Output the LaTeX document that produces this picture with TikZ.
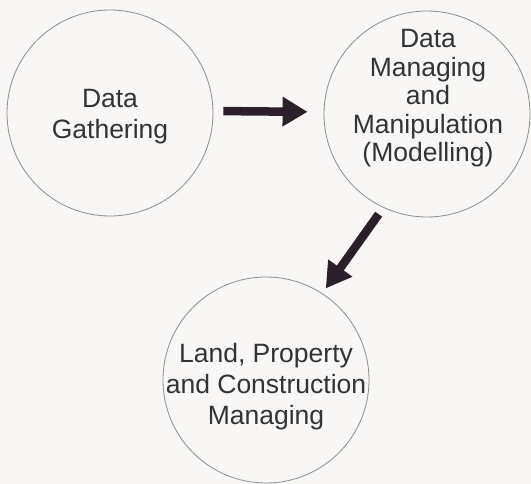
\documentclass[tikz,border=0pt]{standalone}
\usepackage{fontspec}
\setmainfont{Liberation Sans}
\usetikzlibrary{arrows.meta}
\definecolor{bgc}{HTML}{F8F7F5}
\definecolor{ringc}{HTML}{8E8E8E}
\definecolor{txtc}{HTML}{333333}
\definecolor{arrc}{HTML}{2B1F2B}
\begin{document}
\begin{tikzpicture}[x=1pt,y=-1pt,
  ring/.style={circle, draw=ringc, line width=0.8pt, minimum size=206pt, inner sep=0pt},
  label/.style={align=center, text=txtc, inner sep=0pt},
  bigarrow/.style={draw=arrc, line width=8.5pt, -{Triangle[length=25pt,width=28pt]}, arrc}]
  \fill[bgc] (0,0) rectangle (531,484);
  \useasboundingbox (0,0) rectangle (531,484);
  \node[ring] (L) at (110,113) {};
  \node[ring] (R) at (427,114) {};
  \node[ring] (B) at (266,380) {};
  \node[label, font=\fontsize{26.5}{31}\selectfont] (Lt) at (110,117) {Data\\Gathering};
  \node[label, font=\fontsize{26.5}{28.5}\selectfont] (Rt) at (428,98.5) {Data\\Managing\\and\\Manipulation\\(Modelling)};
  \node[label, font=\fontsize{26.5}{31}\selectfont] (Bt) at (266,387) {Land, Property\\and Construction\\Managing};
  \draw[bigarrow, shorten <=10pt, shorten >=16pt] ([yshift=2pt]L.east) -- ([yshift=2pt]R.west);
  \draw[bigarrow, shorten <=8pt, shorten >=6pt] (R.245) -- (B.57);
\end{tikzpicture}
\end{document}
